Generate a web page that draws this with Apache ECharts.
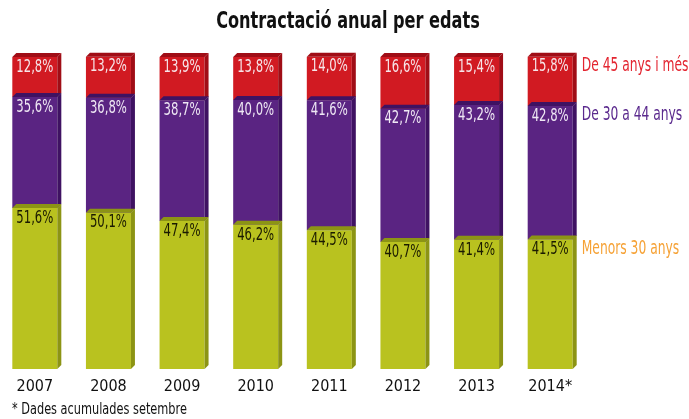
<!DOCTYPE html>
<html>
<head>
<meta charset="utf-8">
<script src="https://cdn.jsdelivr.net/npm/echarts@6/dist/echarts.min.js"></script>
<style>
html,body{margin:0;padding:0;background:#fff;overflow:hidden;}
#chart{position:absolute;left:-2px;top:0;width:691px;height:419px;}
</style>
</head>
<body>
<div id="chart"></div>
<script>
var categories = ['2007','2008','2009','2010','2011','2012','2013','2014*'];
var menors30 = [51.6, 50.1, 47.4, 46.2, 44.5, 40.7, 41.4, 41.5];
var de30a44 = [35.6, 36.8, 38.7, 40.0, 41.6, 42.7, 43.2, 42.8];
var de45 = [12.8, 13.2, 13.9, 13.8, 14.0, 16.6, 15.4, 15.8];
var seriesNames = ['De 45 anys i més', 'De 30 a 44 anys', 'Menors 30 anys'];
var titleText = 'Contractació anual per edats';
var footnote = '* Dades acumulades setembre';

var FONT = '"DejaVu Sans Condensed", "Liberation Sans Narrow", sans-serif';

function fmt(v){ return v.toFixed(1).replace('.', ',') + '%'; }

function rows(vals, below){
  return vals.map(function(v, i){
    var s = below ? below[i] : 0;
    return [i, s, s + v, v];
  });
}
var base1 = menors30.slice();
var base2 = menors30.map(function(v, i){ return v + de30a44[i]; });

var styles = [
  {front:'#d11a22', dark:'#a00d16', text:'#f7e6ea', legend:'#e32530'},
  {front:'#5a2482', dark:'#3f1262', text:'#efe8f4', legend:'#5b2a8e'},
  {front:'#b9c21f', dark:'#8c9414', text:'#1a1a00', legend:'#f6a236'}
];

function makeRender(st, name){
  return function(params, api){
    var x = api.value(0), y0 = api.value(1), y1 = api.value(2), v = api.value(3);
    var pb = api.coord([x, y0]), pt = api.coord([x, y1]);
    var w = 45, d = 4;
    var cx = pb[0], l = cx - w/2, r = cx + w/2;
    var top = pt[1], bot = pb[1];
    var children = [
      {type:'rect', shape:{x:l, y:top, width:w, height:bot-top}, style:{fill:st.front}},
      {type:'polygon', shape:{points:[[r,top],[r+d,top-d],[r+d,bot-d],[r,bot]]}, style:{fill:st.dark}},
      {type:'polygon', shape:{points:[[l,top],[l+d,top-d],[r+d,top-d],[r,top]]}, style:{fill:st.dark}},
      {type:'text', x:cx, y:top+1, scaleX:0.72, style:{text:fmt(v), fill:st.text, font:'18px ' + FONT, align:'center', verticalAlign:'top'}}
    ];
    if (params.dataIndex === categories.length - 1) {
      children.push({type:'text', x:r+d+5, y:top, scaleX:0.72, style:{text:name, fill:st.legend, font:'19px ' + FONT, align:'left', verticalAlign:'top'}});
    }
    return {type:'group', children:children};
  };
}

var chart = echarts.init(document.getElementById('chart'));
chart.setOption({
  animation:false,
  graphic:[
    {type:'text', x:350, y:22, scaleX:0.78, style:{text:titleText, font:'bold 23px ' + FONT, fill:'#111', align:'center', verticalAlign:'middle'}},
    {type:'text', x:14, y:410, scaleX:0.84, style:{text:footnote, font:'15px ' + FONT, fill:'#111', align:'left', verticalAlign:'middle'}}
  ],
  grid:{left:0, top:57, width:589, height:312, containLabel:false},
  xAxis:{type:'category', data:categories, axisLine:{show:false}, axisTick:{show:false},
    axisLabel:{fontFamily:FONT, fontSize:16, color:'#111', margin:10}},
  yAxis:{type:'value', min:0, max:100, show:false},
  series:[
    {type:'custom', name:seriesNames[0], renderItem:makeRender(styles[0], seriesNames[0]), data:rows(de45, base2), encode:{x:0, y:[1,2]}},
    {type:'custom', name:seriesNames[1], renderItem:makeRender(styles[1], seriesNames[1]), data:rows(de30a44, base1), encode:{x:0, y:[1,2]}},
    {type:'custom', name:seriesNames[2], renderItem:makeRender(styles[2], seriesNames[2]), data:rows(menors30), encode:{x:0, y:[1,2]}}
  ]
});
</script>
</body>
</html>
